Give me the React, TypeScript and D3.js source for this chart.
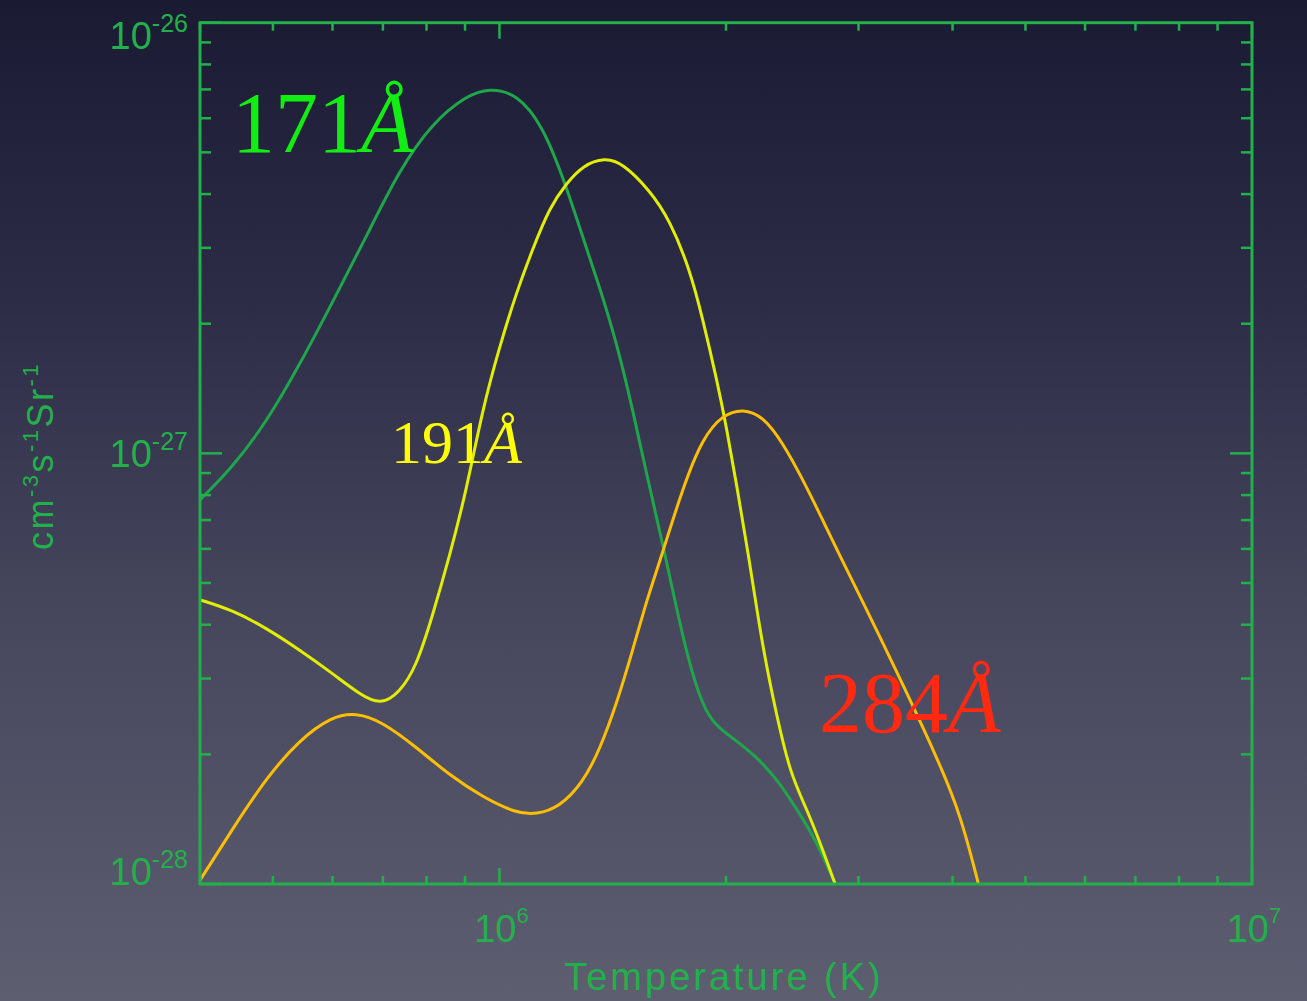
import React from "react";
import * as d3 from "d3";

// Temperature grid (K) and emissivity (cm^-3 s^-1 Sr^-1) for each passband
const tempK171 = [4.0e5, 4.41e5, 4.9e5, 5.42e5, 5.99e5, 6.65e5, 7.36e5, 8.14e5, 9.04e5, 9.7e5, 1.053e6, 1.141e6, 1.228e6, 1.29e6, 1.359e6, 1.432e6, 1.504e6, 1.574e6, 1.658e6, 1.753e6, 1.846e6, 1.921e6, 2.043e6, 2.199e6, 2.338e6, 2.486e6, 2.643e6, 2.793e6];
const em171 = [7.8e-28, 9.25e-28, 1.18e-27, 1.6e-27, 2.23e-27, 3.18e-27, 4.55e-27, 5.85e-27, 6.78e-27, 7.05e-27, 6.85e-27, 5.8e-27, 4.15e-27, 3.18e-27, 2.43e-27, 1.8e-27, 1.26e-27, 8.7e-28, 5.9e-28, 3.7e-28, 2.68e-28, 2.36e-28, 2.18e-28, 1.97e-28, 1.75e-28, 1.49e-28, 1.25e-28, 1.0e-28];

const tempK191 = [4.0e5, 4.41e5, 4.9e5, 5.42e5, 5.99e5, 6.51e5, 6.96e5, 7.36e5, 7.75e5, 8.14e5, 8.58e5, 9.04e5, 9.49e5, 1.0e6, 1.053e6, 1.106e6, 1.166e6, 1.228e6, 1.29e6, 1.38e6, 1.458e6, 1.584e6, 1.684e6, 1.791e6, 1.864e6, 1.945e6, 2.005e6, 2.068e6, 2.138e6, 2.239e6, 2.338e6, 2.433e6, 2.563e6, 2.668e6, 2.793e6];
const em191 = [4.57e-28, 4.33e-28, 3.93e-28, 3.5e-28, 3.09e-28, 2.76e-28, 2.6e-28, 2.78e-28, 3.19e-28, 4.17e-28, 5.75e-28, 8.22e-28, 1.261e-27, 1.767e-27, 2.36e-27, 2.97e-27, 3.73e-27, 4.24e-27, 4.66e-27, 4.86e-27, 4.72e-27, 4.08e-27, 3.48e-27, 2.67e-27, 2.04e-27, 1.48e-27, 1.14e-27, 8.35e-28, 5.96e-28, 3.5e-28, 2.44e-28, 1.81e-28, 1.486e-28, 1.246e-28, 1.0e-28];

const tempK284 = [4.0e5, 4.41e5, 4.9e5, 5.42e5, 5.99e5, 6.45e5, 6.99e5, 7.75e5, 8.58e5, 9.49e5, 1.053e6, 1.12e6, 1.202e6, 1.29e6, 1.359e6, 1.432e6, 1.504e6, 1.574e6, 1.633e6, 1.753e6, 1.864e6, 1.981e6, 2.107e6, 2.239e6, 2.381e6, 2.532e6, 2.692e6, 2.81e6, 3.08e6, 3.31e6, 3.59e6, 3.85e6, 4.1e6, 4.33e6];
const em284 = [1.02e-28, 1.335e-28, 1.764e-28, 2.16e-28, 2.45e-28, 2.5e-28, 2.38e-28, 2.08e-28, 1.79e-28, 1.593e-28, 1.46e-28, 1.45e-28, 1.51e-28, 1.717e-28, 2.05e-28, 2.63e-28, 3.5e-28, 4.64e-28, 5.6e-28, 8.35e-28, 1.09e-27, 1.23e-27, 1.27e-27, 1.22e-27, 1.057e-27, 8.67e-28, 6.97e-28, 5.96e-28, 4.31e-28, 3.33e-28, 2.47e-28, 1.89e-28, 1.447e-28, 1.0e-28];

// Axis extents and labelled decades
const tempDomain = [4e5, 1e7];
const emDomain = [1e-28, 1e-26];
const xLabelExps = [6, 7];
const yLabelExps = [-26, -27, -28];

const W = 1307;
const H = 1001;
const left = 200, right = 1252, top = 22.7, bottom = 884;

const AXIS = "#22b04b";
const FONT = "'Liberation Sans', Arial, sans-serif";
const SERIF = "'Liberation Serif', 'Times New Roman', serif";

const x = d3.scaleLog().domain(tempDomain).range([left, right]);
const y = d3.scaleLog().domain(emDomain).range([bottom, top]);

const isDecade = (v: number) => Math.abs(Math.log10(v) - Math.round(Math.log10(v))) < 1e-6;

const line = d3
  .line<[number, number]>()
  .x((d) => x(d[0]))
  .y((d) => y(d[1]))
  .curve(d3.curveBasis);

const zip = (a: number[], b: number[]) => a.map((t, i) => [t, b[i]] as [number, number]);

const series = [
  { id: "171", data: zip(tempK171, em171), color: "#1fa64a" },
  { id: "191", data: zip(tempK191, em191), color: "#e2ee00" },
  { id: "284", data: zip(tempK284, em284), color: "#ffbf00" },
];

export default function App() {
  const xTicks = x.ticks();
  const yTicks = y.ticks();

  return (
    <svg
      width={W}
      height={H}
      style={{ position: "absolute", left: 0, top: 0, display: "block" }}
    >
      <defs>
        <linearGradient id="bg" x1="0" y1="0" x2="0" y2="1">
          <stop offset="0%" stopColor="#1a1a33" />
          <stop offset="30%" stopColor="#2c2c47" />
          <stop offset="60%" stopColor="#45455c" />
          <stop offset="100%" stopColor="#5e5e71" />
        </linearGradient>
        <clipPath id="plotClip">
          <rect x={left} y={top} width={right - left} height={bottom - top} />
        </clipPath>
      </defs>
      <rect x={0} y={0} width={W} height={H} fill="url(#bg)" />

      {/* curves */}
      <g clipPath="url(#plotClip)" fill="none" strokeWidth={3} strokeLinejoin="round">
        {series.map((s) => (
          <path key={s.id} d={line(s.data) || ""} stroke={s.color} />
        ))}
      </g>

      {/* frame */}
      <rect
        x={left}
        y={top}
        width={right - left}
        height={bottom - top}
        fill="none"
        stroke={AXIS}
        strokeWidth={3}
      />

      {/* x ticks, bottom and top, pointing inward */}
      <g stroke={AXIS} strokeWidth={2.5}>
        {xTicks.map((t, i) => {
          const len = isDecade(t) ? 16 : 8;
          const px = x(t);
          return (
            <g key={"xt" + i}>
              <line x1={px} x2={px} y1={bottom} y2={bottom - len} />
              <line x1={px} x2={px} y1={top} y2={top + len} />
            </g>
          );
        })}
        {yTicks.map((t, i) => {
          const len = isDecade(t) ? 22 : 11;
          const py = y(t);
          return (
            <g key={"yt" + i}>
              <line x1={left} x2={left + len} y1={py} y2={py} />
              <line x1={right} x2={right - len} y1={py} y2={py} />
            </g>
          );
        })}
      </g>

      {/* x tick labels */}
      <g fill={AXIS} fontFamily={FONT}>
        {xLabelExps.map((e) => (
          <text key={"xl" + e} x={x(Math.pow(10, e)) + 2} y={942} fontSize={38} textAnchor="middle">
            10
            <tspan fontSize={22} dy={-19}>
              {e}
            </tspan>
          </text>
        ))}
      </g>

      {/* y tick labels */}
      <g fill={AXIS} fontFamily={FONT}>
        {yLabelExps.map((e) => {
          const py = y(Math.pow(10, e));
          const frac = (py - top) / (bottom - top);
          const base = py + 26 - 25 * frac;
          return (
            <text key={"yl" + e} x={188} y={base} fontSize={38} textAnchor="end">
              10
              <tspan fontSize={25} dy={-17}>
                {"-" + Math.abs(e)}
              </tspan>
            </text>
          );
        })}
      </g>

      {/* axis titles */}
      <text
        x={(563 + 885) / 2}
        y={990}
        fill={AXIS}
        fontFamily={FONT}
        fontSize={38}
        letterSpacing={3}
        textAnchor="middle"
      >
        Temperature (K)
      </text>
      <text
        transform={`translate(53, 456) rotate(-90)`}
        fill={AXIS}
        fontFamily={FONT}
        fontSize={36}
        letterSpacing={2.5}
        textAnchor="middle"
      >
        cm
        <tspan fontSize={22} dy={-15}>-3</tspan>
        <tspan dy={15}>s</tspan>
        <tspan fontSize={22} dy={-15}>-1</tspan>
        <tspan dy={15}>Sr</tspan>
        <tspan fontSize={22} dy={-15}>-1</tspan>
      </text>

      {/* passband labels */}
      <text x={232} y={152} fill="#12ee12" fontFamily={SERIF} fontSize={86}>
        171<tspan fontStyle="italic">Å</tspan>
      </text>
      <text x={391} y={463} fill="#ffff00" fontFamily={SERIF} fontSize={62}>
        191<tspan fontStyle="italic">Å</tspan>
      </text>
      <text x={819} y={732} fill="#ff2a10" fontFamily={SERIF} fontSize={86}>
        284<tspan fontStyle="italic">Å</tspan>
      </text>
    </svg>
  );
}
